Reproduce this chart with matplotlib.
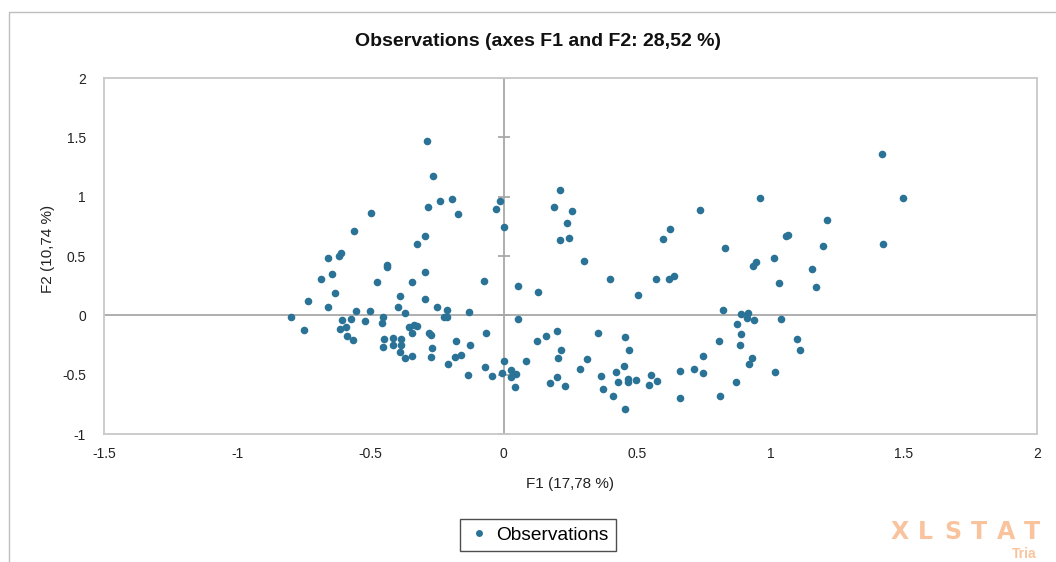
import matplotlib
matplotlib.use("Agg")
import matplotlib.pyplot as plt
from matplotlib.patches import Rectangle
from matplotlib.lines import Line2D

plt.rcParams['font.family'] = ['Liberation Sans', 'DejaVu Sans']

# ---- data ----
f1 = [
    -0.288, -0.266, -0.240, -0.194, -0.285, -0.171, -0.031, -0.016, 0.002, -0.499,
    -0.564, -0.297, -0.326, -0.658, -0.620, -0.611, -0.685, -0.646, -0.635, -0.439,
    -0.439, -0.475, -0.345, -0.294, -0.391, -0.297, -0.075, 0.054, -0.736,
    -0.798, -0.749, -0.658, -0.609, -0.574, -0.556, -0.504, -0.522, -0.453, -0.456,
    -0.398, -0.370, -0.616, -0.594, -0.589, -0.567, -0.450, -0.453, -0.414, -0.416,
    -0.385, -0.385, -0.390, -0.369, -0.345, -0.356, -0.336, -0.324, -0.344, -0.250,
    -0.214, -0.214, -0.225, -0.129, -0.282, -0.275, -0.270, -0.274, -0.181, -0.126,
    -0.183, -0.160, -0.209, -0.068, -0.136, -0.070, -0.044, 0.000, -0.006, 0.025,
    0.025, 0.045, 0.043, 0.054,
    0.209, 0.188, 0.254, 0.236, 0.210, 0.246, 0.299, 0.735, 0.625, 0.596,
    0.830, 0.398, 0.571, 0.619, 0.640, 0.505, 0.128, 0.823,
    0.126, 0.159, 0.198, 0.215, 0.204, 0.083, 0.174, 0.200, 0.228, 0.286,
    0.313, 0.353, 0.366, 0.372, 0.408, 0.421, 0.429, 0.449, 0.455, 0.470,
    0.465, 0.465, 0.497, 0.455, 0.551, 0.546, 0.574, 0.659, 0.660, 0.714,
    0.748, 0.748, 0.806, 0.809,
    1.420, 1.499, 1.424, 0.961, 1.214, 1.057, 1.066, 1.196, 1.012, 0.935,
    0.946, 1.156, 1.031, 1.171,
    0.888, 0.916, 0.913, 0.939, 1.041, 0.875, 0.888, 0.887, 1.101, 1.110,
    0.931, 0.918, 1.019, 0.869,
]
f2 = [
    1.468, 1.173, 0.966, 0.980, 0.915, 0.851, 0.896, 0.961, 0.747, 0.859,
    0.710, 0.668, 0.597, 0.480, 0.500, 0.527, 0.310, 0.350, 0.188, 0.424,
    0.404, 0.284, 0.279, 0.368, 0.165, 0.135, 0.290, 0.250, 0.125,
    -0.017, -0.126, 0.070, -0.040, -0.034, 0.039, 0.036, -0.048, -0.012, -0.065,
    0.072, 0.017, -0.115, -0.096, -0.175, -0.208, -0.202, -0.270, -0.194, -0.250,
    -0.202, -0.253, -0.312, -0.360, -0.340, -0.095, -0.078, -0.088, -0.147, 0.072,
    0.045, -0.017, -0.012, 0.025, -0.152, -0.163, -0.278, -0.351, -0.219, -0.253,
    -0.354, -0.337, -0.408, -0.152, -0.500, -0.433, -0.511, -0.385, -0.490, -0.463,
    -0.517, -0.495, -0.600, -0.034,
    1.056, 0.915, 0.876, 0.778, 0.634, 0.654, 0.455, 0.890, 0.727, 0.640,
    0.567, 0.306, 0.306, 0.303, 0.331, 0.174, 0.196, 0.045,
    -0.217, -0.172, -0.130, -0.293, -0.357, -0.382, -0.570, -0.517, -0.596, -0.455,
    -0.365, -0.148, -0.511, -0.624, -0.677, -0.478, -0.559, -0.425, -0.183, -0.293,
    -0.537, -0.560, -0.545, -0.786, -0.500, -0.590, -0.554, -0.466, -0.697, -0.449,
    -0.343, -0.483, -0.217, -0.677,
    1.356, 0.988, 0.598, 0.988, 0.806, 0.668, 0.679, 0.581, 0.485, 0.415,
    0.449, 0.387, 0.272, 0.235,
    0.013, 0.022, -0.023, -0.040, -0.031, -0.076, -0.160, -0.250, -0.197, -0.292,
    -0.357, -0.413, -0.478, -0.562,
]

x_ticks = [-1.5, -1, -0.5, 0, 0.5, 1, 1.5, 2]
y_ticks = [-1, -0.5, 0, 0.5, 1, 1.5, 2]
x_ticklabels = ["-1.5", "-1", "-0.5", "0", "0.5", "1", "1.5", "2"]
y_ticklabels = ["-1", "-0.5", "0", "0.5", "1", "1.5", "2"]

title = "Observations (axes F1 and F2: 28,52 %)"
xlabel = "F1 (17,78 %)"
ylabel = "F2 (10,74 %)"
series_name = "Observations"
watermark = "XLSTAT"
watermark2 = "Tria"

color = "#2a7397"

W, H = 1056, 562
fig = plt.figure(figsize=(W / 100, H / 100), dpi=100)

# outer chart frame
fig.patches.append(Rectangle((9 / W, -0.05), 1.2, 1 - 12 / H + 0.05,
                             transform=fig.transFigure, fill=False,
                             edgecolor="#bdbdbd", linewidth=1.0))

pos = [104 / W, 1 - 434 / H, (1037 - 104) / W, (434 - 78) / H]
ax = fig.add_axes(pos)
ax.set_xlim(-1.5, 2)
ax.set_ylim(-1, 2)
for s in ax.spines.values():
    s.set_color("#c8c8c8")
    s.set_linewidth(1.3)
ax.set_xticks(x_ticks)
ax.set_xticklabels(x_ticklabels)
ax.set_yticks(y_ticks)
ax.set_yticklabels(y_ticklabels)
ax.tick_params(axis="both", length=0, labelsize=10, colors="#222222")
ax.tick_params(axis="x", pad=9)
ax.tick_params(axis="y", pad=13)

# zero axes
ax.axhline(0, color="#a8a8a8", linewidth=1.3, zorder=1)
ax.axvline(0, color="#a8a8a8", linewidth=1.3, zorder=1)
ax.plot([0] * len(y_ticks), y_ticks, linestyle="none", marker="_",
        markersize=9, markeredgewidth=1.3, color="#a8a8a8", zorder=1)

ax.scatter(f1, f2, s=30, color=color, linewidths=0, zorder=3)

ax.set_xlabel(xlabel, fontsize=11, color="#222222")
ax.xaxis.set_label_coords(0.5, -0.12)
ax.set_ylabel(ylabel, fontsize=11, color="#222222")
ax.yaxis.set_label_coords(-0.052, 0.52)

fig.text(538 / W, 1 - 42 / H, title, ha="center", va="center",
         fontsize=14, fontweight="bold", color="#111111")

handle = Line2D([], [], linestyle="none", marker="o", markersize=5,
                color=color, markeredgewidth=0)
leg = fig.legend([handle], [series_name], loc="center",
                 bbox_to_anchor=(538 / W, 1 - 535 / H), fontsize=13.8,
                 frameon=True, fancybox=False, edgecolor="#222222",
                 handletextpad=0.3, borderpad=0.4, handlelength=1.2,
                 borderaxespad=0)
leg.get_frame().set_linewidth(1.0)

# watermark (spaced letters)
for i, ch in enumerate(watermark):
    fig.text((891 + i * 26.5) / W, 1 - 532 / H, ch, ha="left", va="center",
             fontsize=17, fontweight="bold", family="DejaVu Sans",
             color="#f7b98c", alpha=0.85)
fig.text(1012 / W, 1 - 554 / H, watermark2, ha="left", va="center",
         fontsize=10, fontweight="bold", color="#f7b98c", alpha=0.85)

fig.savefig("out.png", dpi=100)
